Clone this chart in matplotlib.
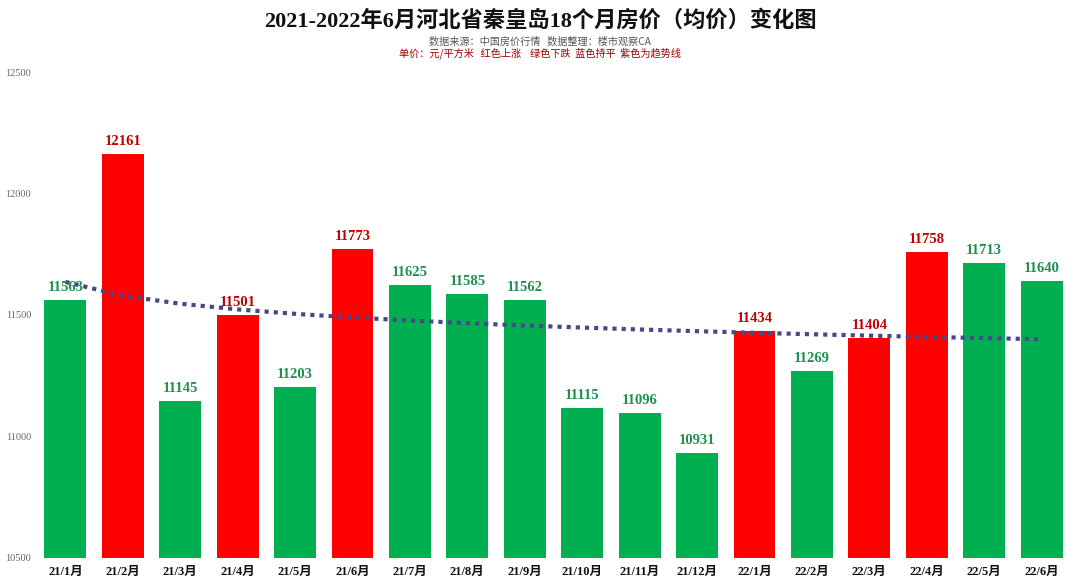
import numpy as np
import matplotlib
matplotlib.use("Agg")
import matplotlib.pyplot as plt

months = ["21/1月", "21/2月", "21/3月", "21/4月", "21/5月", "21/6月", "21/7月", "21/8月", "21/9月",
          "21/10月", "21/11月", "21/12月", "22/1月", "22/2月", "22/3月", "22/4月", "22/5月", "22/6月"]
prices = [11563, 12161, 11145, 11501, 11203, 11773, 11625, 11585, 11562,
          11115, 11096, 10931, 11434, 11269, 11404, 11758, 11713, 11640]
trend_up = [False, True, False, True, False, True, False, False, False,
            False, False, False, True, False, True, True, False, False]
yticks = [10500, 11000, 11500, 12000, 12500]

RED = "#FF0000"
GREEN = "#00B050"
RED_TXT = "#C00000"
GREEN_TXT = "#1F8F4E"
FONT = ["Liberation Serif", "Noto Sans CJK SC"]

fig = plt.figure(figsize=(10.8, 5.86), dpi=100)
ax = fig.add_axes([0.034, 0.048, 0.957, 0.829])

x = np.arange(len(prices))
colors = [RED if u else GREEN for u in trend_up]
ax.bar(x, prices, width=0.73, color=colors, zorder=2)

for xi, v, u in zip(x, prices, trend_up):
    ax.text(xi, v + 25, str(v), ha="center", va="bottom", fontsize=10.5, fontweight="bold",
            color=RED_TXT if u else GREEN_TXT, family=FONT, zorder=4)

# logarithmic trend line (as in spreadsheet trendline)
lx = np.log(x + 1)
b, a = np.polyfit(lx, prices, 1)
ax.plot(x, a + b * lx, linestyle=(0, (1, 1.2)), color="#48488A", linewidth=3, zorder=3)

ax.set_ylim(10500, 12500)
ax.set_xlim(-0.5, len(prices) - 0.5)
ax.set_yticks(yticks)
ax.set_yticklabels([str(t) for t in yticks], family=FONT, fontsize=7.5, color="#666666")
ax.set_xticks(x)
ax.set_xticklabels(months, family=FONT, fontsize=9, fontweight="bold", color="#111111")
ax.tick_params(axis="both", length=0)
ax.tick_params(axis="y", pad=4)
ax.tick_params(axis="x", pad=6)
for s in ax.spines.values():
    s.set_visible(False)

fig.text(0.5, 0.964, "2021-2022年6月河北省秦皇岛18个月房价（均价）变化图", ha="center", va="center",
         fontsize=16, fontweight="bold", family=FONT, color="#111111")
fig.text(0.5, 0.929, "数据来源：中国房价行情   数据整理：楼市观察CA", ha="center", va="center",
         fontsize=7.3, family=["Noto Sans CJK SC", "DejaVu Sans"], color="#555555")
fig.text(0.5, 0.910, "单价：元/平方米   红色上涨    绿色下跌  蓝色持平  紫色为趋势线", ha="center", va="center",
         fontsize=7.3, family=["Noto Sans CJK SC", "DejaVu Sans"], color="#A00000")

fig.savefig("out.png", dpi=100)
